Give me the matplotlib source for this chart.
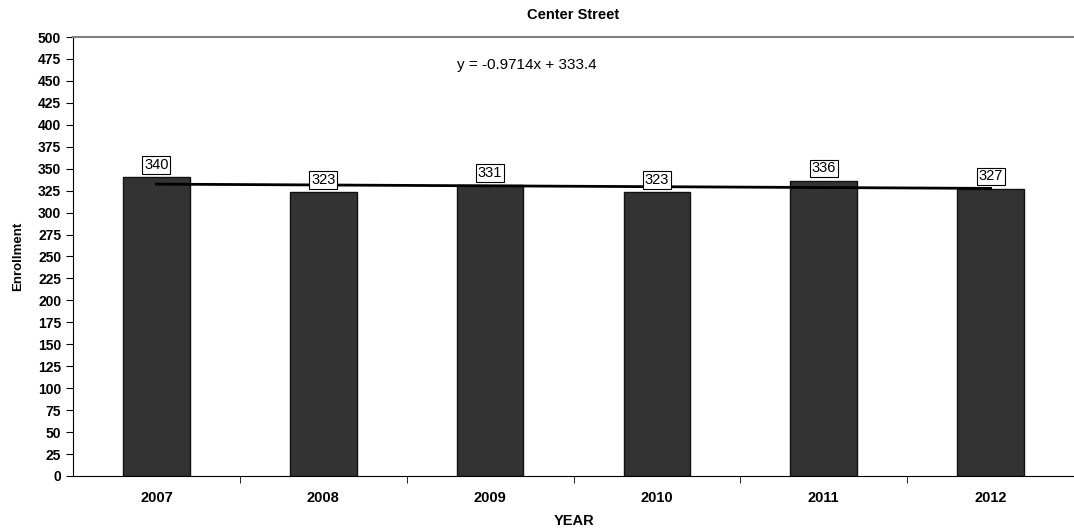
import matplotlib.pyplot as plt
import numpy as np

plt.rcParams['font.family'] = ['Liberation Sans', 'DejaVu Sans']

years = ['2007', '2008', '2009', '2010', '2011', '2012']
enrollment = [340, 323, 331, 323, 336, 327]
slope = -0.9714
intercept = 333.4

fig = plt.figure(figsize=(10.74, 5.31), dpi=100)
ax = fig.add_axes([0.068, 0.1036, 0.932, 0.8267])

x = np.arange(len(years))
ax.bar(x, enrollment, width=0.4, color='#333333', edgecolor='#111111', linewidth=1, zorder=2)

# linear trend, Excel-style x = 1..n
trend = slope * (x + 1) + intercept
ax.plot(x, trend, color='black', linewidth=2, zorder=3)

for xi, v in zip(x, enrollment):
	ax.annotate(str(v), (xi, v), xytext=(0, 4), textcoords='offset points',
		ha='center', va='bottom', fontsize=10.5, zorder=4,
		bbox=dict(boxstyle='square,pad=0.12', fc='white', ec='black', lw=0.8))

ax.text(2.22, 468, 'y = -0.9714x + 333.4', fontsize=11, ha='center', va='center')

ax.set_xlim(-0.5, len(years) - 0.5)
ax.set_ylim(0, 500)
ax.set_yticks(np.arange(0, 501, 25))
ax.set_xticks(x)
ax.set_xticklabels(years, fontweight='bold', fontsize=10.5)
ax.set_xticks(np.arange(0.5, len(years) - 0.5, 1), minor=True)
ax.tick_params(axis='x', which='major', length=0, pad=11)
ax.tick_params(axis='x', which='minor', length=5, direction='out')
ax.tick_params(axis='y', length=5, direction='out', labelsize=10)
for lbl in ax.get_yticklabels():
	lbl.set_fontweight('bold')

ax.spines['right'].set_visible(False)
ax.spines['top'].set_color('#808080')
ax.spines['top'].set_linewidth(1.5)

ax.set_title('Center Street', fontweight='bold', fontsize=10.5, pad=13)
ax.set_ylabel('Enrollment', fontweight='bold', fontsize=9.5, labelpad=10)
ax.set_xlabel('YEAR', fontweight='bold', fontsize=10.5, labelpad=6)

fig.savefig('out.png', dpi=100)
